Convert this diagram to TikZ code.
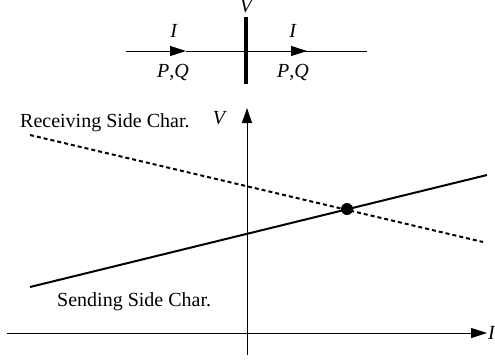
\documentclass[tikz,border=0pt]{standalone}
\usepackage{fontspec}
\setmainfont{Liberation Serif}
\usetikzlibrary{arrows.meta}
\begin{document}
\begin{tikzpicture}[x=1pt,y=-1pt,
  lbl/.style={font=\fontsize{20}{24}\selectfont, inner sep=0pt, anchor=base},
  lblw/.style={lbl, anchor=base west},
  thinln/.style={line width=1pt},
  charln/.style={line width=2pt},
  tri/.style={-{Triangle[length=16pt,width=10pt]}},
  axtip/.style={-{Triangle[length=16pt,width=10pt]}}]
\useasboundingbox (0,0) rectangle (495,362);
% one-line diagram at top
\coordinate (tl) at (126,51);
\coordinate (ta1) at (186,51);
\coordinate (bus) at (246,51);
\coordinate (ta2) at (307,51);
\coordinate (tr) at (367,51);
\coordinate (bt) at (246,17);
\coordinate (bb) at (246,84);
\draw[thinln, tri] (tl) -- (ta1);
\draw[thinln] (ta1) -- (tr);
\draw[thinln, tri] (bus) -- (ta2);
\draw[line width=4pt] (bt) -- (bb);
\node[lbl] (vtop) at (247,12) {\textit{V}};
\node[lbl] (i1) at (174,37) {\textit{I}};
\node[lbl] (i2) at (293,37) {\textit{I}};
\node[lbl] (pq1) at (173,77) {\textit{P},\textit{Q}};
\node[lbl] (pq2) at (293,77) {\textit{P},\textit{Q}};
% axes
\coordinate (xl) at (7,333);
\coordinate (xr) at (487,333);
\coordinate (yb) at (247,355);
\coordinate (yt) at (247,108);
\draw[thinln, axtip] (xl) -- (xr);
\draw[thinln, -{Triangle[length=15pt,width=10pt]}] (yb) -- (yt);
\node[lblw] (ilab) at (488,339) {\textit{I}};
\node[lbl] (vlab) at (220,124) {\textit{V}};
% characteristics
\coordinate (s1) at (30,287);
\coordinate (s2) at (487,175);
\coordinate (r1) at (30,135);
\coordinate (r2) at (483,242);
\draw[charln] (s1) -- (s2);
\draw[charln, dash pattern=on 4pt off 3pt] (r1) -- (r2);
\fill (347,209) circle (6pt) coordinate (op);
\node[lblw] (rlab) at (20,127) {Receiving Side Char.};
\node[lblw] (slab) at (57,306) {Sending Side Char.};
\end{tikzpicture}
\end{document}
